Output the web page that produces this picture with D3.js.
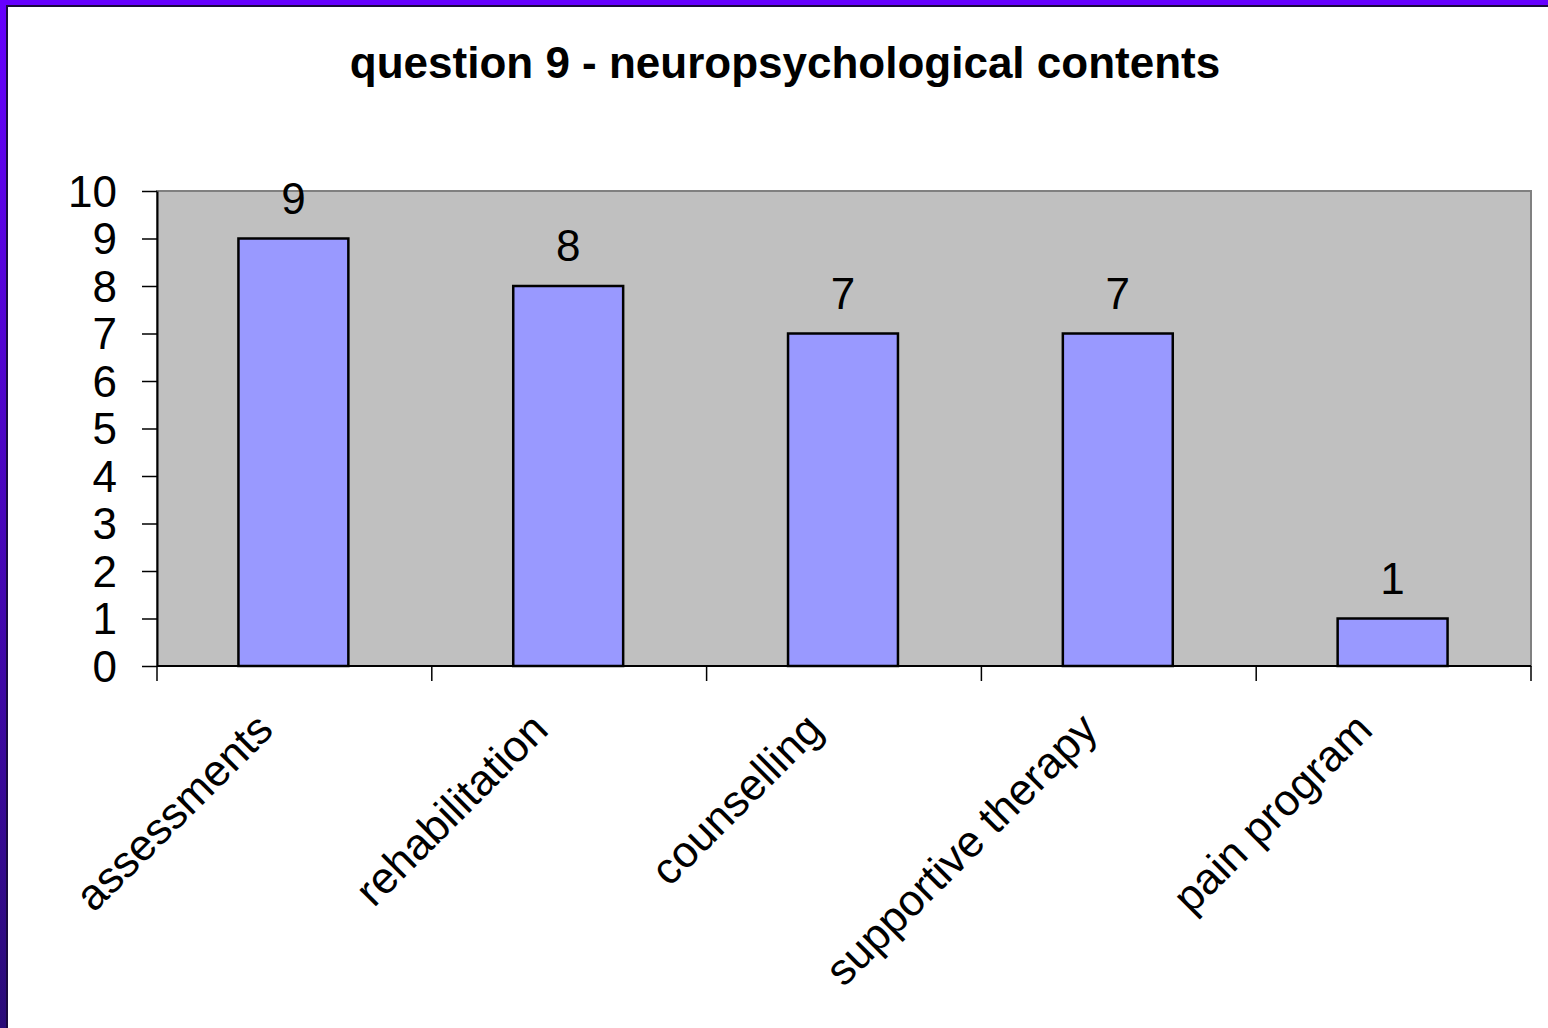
<!DOCTYPE html>
<html>
<head>
<meta charset="utf-8">
<script src="https://cdn.jsdelivr.net/npm/d3@7"></script>
<style>
  body { margin: 0; background: #fff; }
  svg { display: block; }
  text { font-family: "Liberation Sans", Arial, sans-serif; fill: #000; }
</style>
</head>
<body>
<svg id="chart"></svg>
<script>
// chart data
const categories = ['assessments', 'rehabilitation', 'counselling', 'supportive therapy', 'pain program'];
const counts = [9, 8, 7, 7, 1];
const yTicks = [0, 1, 2, 3, 4, 5, 6, 7, 8, 9, 10];
const chartTitle = 'question 9 - neuropsychological contents';

const W = 1548, H = 1028;
const margin = {top: 191, right: 17, bottom: 362, left: 157};
const width = W - margin.left - margin.right;
const height = H - margin.top - margin.bottom;
const fontSize = '44px';

const svg = d3.select('#chart')
    .attr('width', W)
    .attr('height', H);

// slide frame: purple gradient on the left and top edge
const defs = svg.append('defs');
const grad = defs.append('linearGradient')
    .attr('id', 'frameGrad')
    .attr('x1', 0).attr('y1', 0).attr('x2', 0).attr('y2', 1);
grad.append('stop').attr('offset', '0%').attr('stop-color', '#6600ff');
grad.append('stop').attr('offset', '100%').attr('stop-color', '#2a0c78');

svg.append('rect').attr('x', 0).attr('y', 0).attr('width', W).attr('height', H).attr('fill', '#fff');
svg.append('rect').attr('x', 0).attr('y', 0).attr('width', 7).attr('height', H).attr('fill', 'url(#frameGrad)');
svg.append('rect').attr('x', 0).attr('y', 0).attr('width', W).attr('height', 5).attr('fill', '#6600ff');
svg.append('rect').attr('x', 6).attr('y', 5).attr('width', W).attr('height', 2).attr('fill', '#1a0a40');
svg.append('rect').attr('x', 6).attr('y', 5).attr('width', 2).attr('height', H).attr('fill', '#1a0a40');

// title
svg.append('text')
    .attr('x', 785)
    .attr('y', 78)
    .attr('text-anchor', 'middle')
    .style('font-size', fontSize)
    .style('font-weight', 'bold')
    .text(chartTitle);

const chart = svg.append('g')
    .attr('transform', `translate(${margin.left},${margin.top})`);

// scales
const xScale = d3.scaleBand()
    .domain(categories)
    .range([0, width]);

const yScale = d3.scaleLinear()
    .domain([0, 10])
    .range([height, 0]);

const barWidth = xScale.bandwidth() * 0.4;
const center = c => xScale(c) + xScale.bandwidth() / 2 - 1;

// plot area
chart.append('rect')
    .attr('x', 0).attr('y', 0)
    .attr('width', width).attr('height', height)
    .attr('fill', '#c0c0c0')
    .attr('stroke', '#808080')
    .attr('stroke-width', 2);

// bars
chart.selectAll('.bar')
    .data(counts)
    .enter()
    .append('rect')
    .attr('class', 'bar')
    .attr('x', (d, i) => center(categories[i]) - barWidth / 2)
    .attr('y', d => yScale(d))
    .attr('width', barWidth)
    .attr('height', d => yScale(0) - yScale(d))
    .attr('fill', '#9999ff')
    .attr('stroke', '#000')
    .attr('stroke-width', 2.5);

// value labels
chart.selectAll('.value')
    .data(counts)
    .enter()
    .append('text')
    .attr('class', 'value')
    .attr('x', (d, i) => center(categories[i]))
    .attr('y', d => yScale(d) - 25)
    .attr('text-anchor', 'middle')
    .style('font-size', fontSize)
    .text(d => d);

// y axis
const yAxis = d3.axisLeft(yScale)
    .tickValues(yTicks)
    .tickSize(15)
    .tickSizeOuter(0)
    .tickPadding(25);
const yAxisG = chart.append('g').attr('class', 'axis y-axis').call(yAxis);
yAxisG.select('.domain').attr('stroke', '#000').attr('stroke-width', 2);
yAxisG.selectAll('line').attr('stroke', '#000').attr('stroke-width', 1.5);
yAxisG.selectAll('text')
    .style('font-size', fontSize)
    .style('font-family', '"Liberation Sans", Arial, sans-serif')
    .attr('fill', '#000')
    .attr('dy', '0.35em');

// x axis: ticks at category boundaries
const xAxisG = chart.append('g')
    .attr('class', 'axis x-axis')
    .attr('transform', `translate(0,${height})`);
xAxisG.append('line')
    .attr('x1', 0).attr('x2', width)
    .attr('stroke', '#000').attr('stroke-width', 2);
const bounds = categories.map(c => xScale(c)).concat([width]);
xAxisG.selectAll('.xtick')
    .data(bounds)
    .enter()
    .append('line')
    .attr('class', 'xtick')
    .attr('x1', d => d).attr('x2', d => d)
    .attr('y1', 0).attr('y2', 15)
    .attr('stroke', '#000').attr('stroke-width', 1.5);

xAxisG.selectAll('.xlabel')
    .data(categories)
    .enter()
    .append('text')
    .attr('class', 'xlabel')
    .attr('text-anchor', 'end')
    .attr('transform', d => `translate(${center(d) - 18},${66}) rotate(-45)`)
    .style('font-size', fontSize)
    .text(d => d);
</script>
</body>
</html>
